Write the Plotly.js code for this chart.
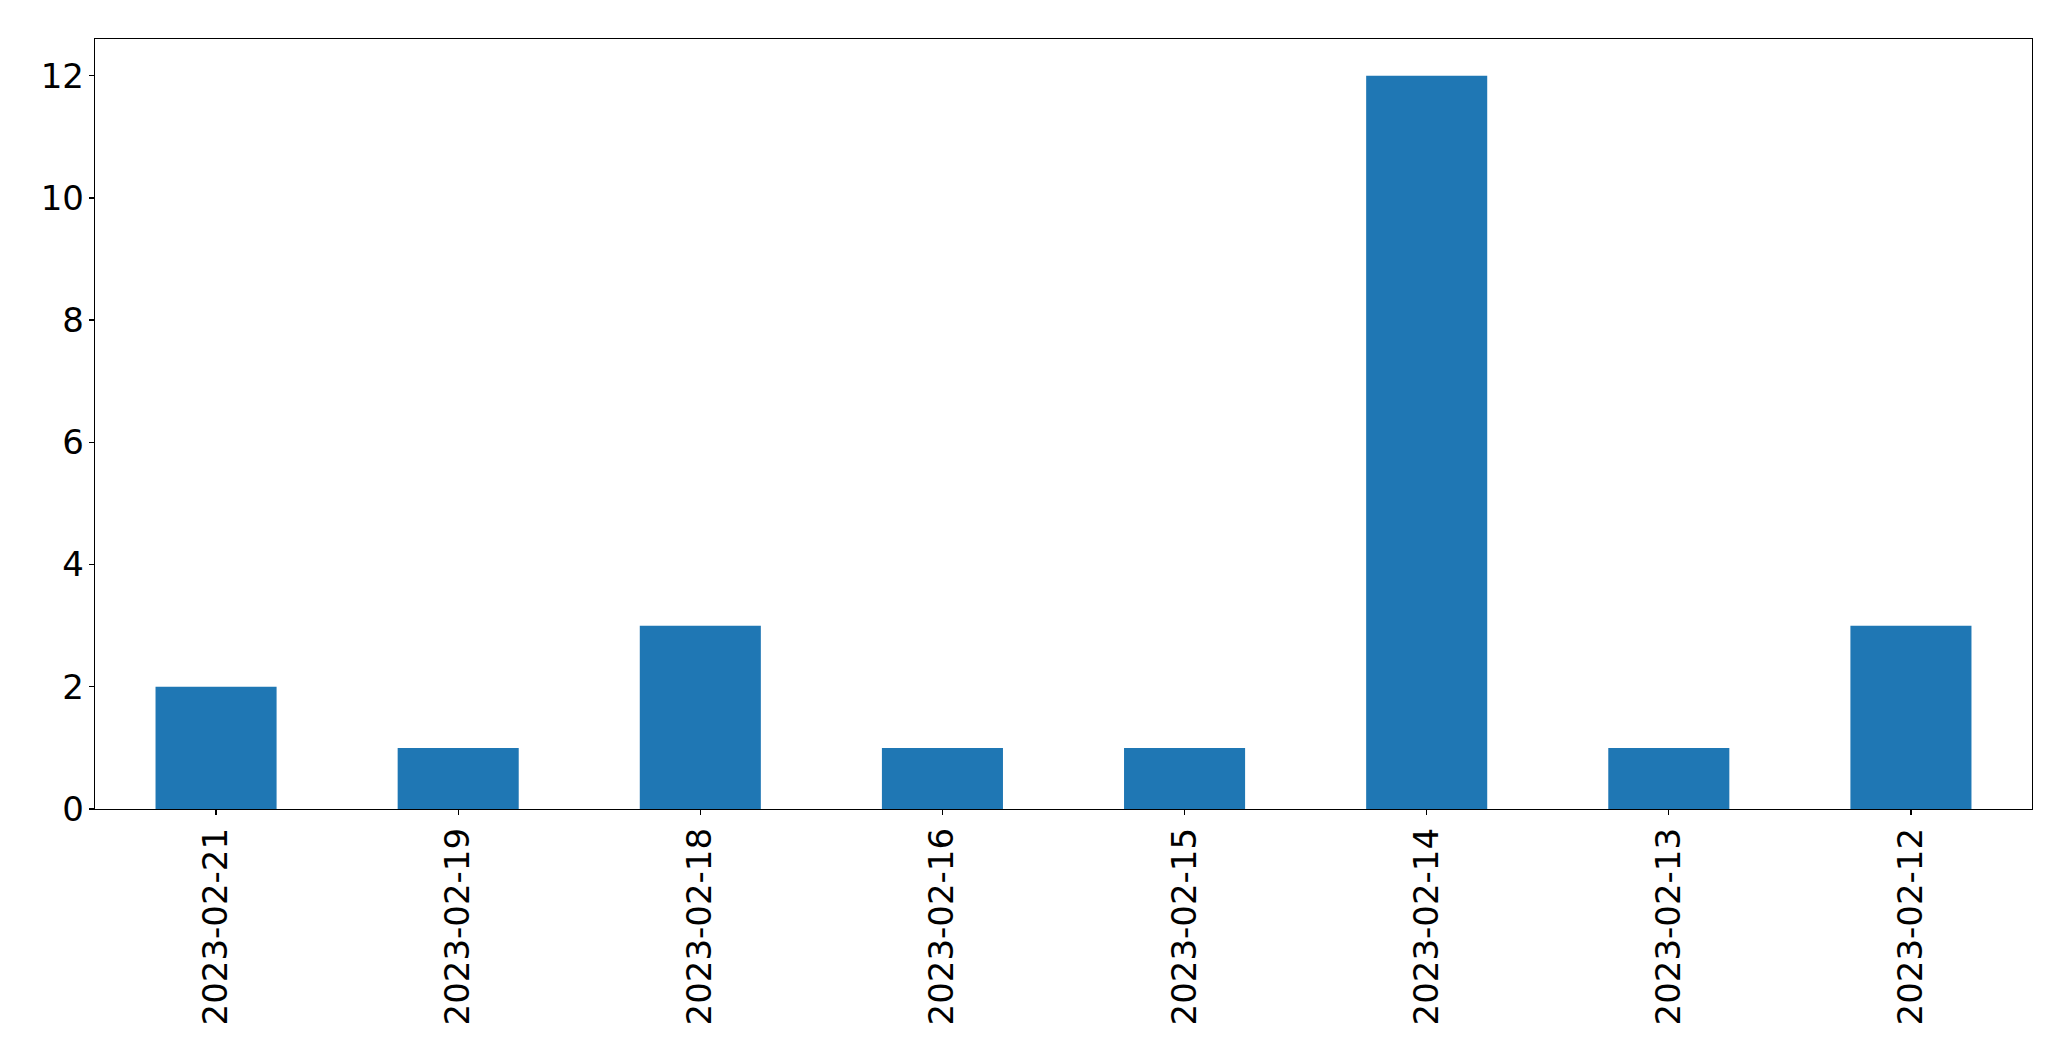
<!DOCTYPE html>
<html>
<head>
<meta charset="utf-8">
<script src="https://cdn.plot.ly/plotly-3.0.1.min.js"></script>
<style>html,body{margin:0;padding:0;background:#fff;}#chart{width:2071px;height:1061px;}</style>
</head>
<body>
<div id="chart"></div>
<script>
const dates = ['2023-02-21','2023-02-19','2023-02-18','2023-02-16','2023-02-15','2023-02-14','2023-02-13','2023-02-12'];
const counts = [2, 1, 3, 1, 1, 12, 1, 3];
const yTicks = [0, 2, 4, 6, 8, 10, 12];

const trace = {
  type: 'bar',
  x: dates,
  y: counts,
  width: 0.5,
  marker: {color: '#1f77b4', line: {width: 0}},
  hoverinfo: 'x+y'
};

const axisCommon = {
  showgrid: false,
  zeroline: false,
  showline: true,
  linecolor: '#000',
  linewidth: 1.3,
  mirror: true,
  ticks: 'outside',
  ticklen: 5,
  tickwidth: 1.3,
  tickcolor: '#000',
  tickfont: {family: 'DejaVu Sans', size: 34, color: '#000'}
};

const layout = {
  width: 2071,
  height: 1061,
  margin: {l: 94.5, r: 38.7, t: 39.3, b: 251.7, pad: 0},
  paper_bgcolor: '#fff',
  plot_bgcolor: '#fff',
  showlegend: false,
  xaxis: Object.assign({}, axisCommon, {
    type: 'category',
    range: [-0.5, 7.5],
    tickangle: -90,
    ticklabelstandoff: -1
  }),
  yaxis: Object.assign({}, axisCommon, {
    range: [0, 12.6],
    tickvals: yTicks,
    ticktext: yTicks.map(String),
    ticklabelstandoff: -2
  })
};

Plotly.newPlot('chart', [trace], layout, {displayModeBar: false, staticPlot: true});
</script>
</body>
</html>
